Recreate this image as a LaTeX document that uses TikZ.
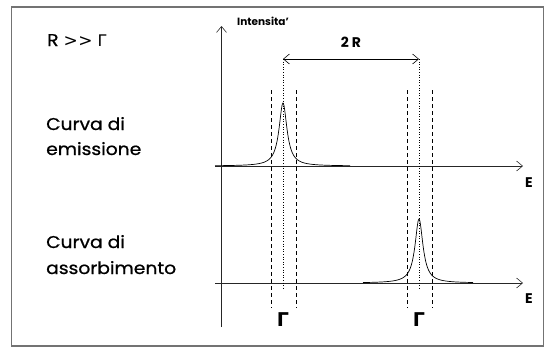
\documentclass[tikz,border=0pt]{standalone}
\usepackage{fontspec}
\setmainfont{Poppins}
\newfontfamily\lblfont[FakeStretch=1.1,FakeBold=0.8]{Poppins}
\newfontfamily\grk{DejaVu Sans}
\usetikzlibrary{arrows.meta}
\begin{document}
\begin{tikzpicture}[x=1pt,y=-1pt,
  lbl/.style={anchor=base west,inner sep=0pt,font=\lblfont\fontsize{17}{18}\selectfont},
  axis/.style={line width=0.8pt,draw=black!85,-{Straight Barb[length=6pt,width=10pt,line width=0.6pt]}},
  dashv/.style={line width=0.6pt,dash pattern=on 4pt off 3pt},
  dotv/.style={line width=0.6pt,dash pattern=on 1pt off 1.6pt},
  gam/.style={inner sep=0pt,font=\grk\bfseries\fontsize{19}{20}\selectfont},
  elbl/.style={inner sep=0pt,font=\bfseries\fontsize{14}{15}\selectfont},
  curve/.style={line width=0.7pt}]
\useasboundingbox (0,0) rectangle (544,349);
\draw[line width=1.2pt,draw=black!55] (11.5,7) rectangle (543.5,346);
% texts
\node[lbl] (rg) at (47,46) {R {\grk\fontsize{17}{18}\selectfont >\hspace{0.5pt}>} {\grk\fontsize{16}{18}\selectfont Γ}};
\node[lbl] (c1) at (46,130) {Curva di};
\node[lbl] (c2) at (46,155) {emissione};
\node[lbl] (c3) at (46,248) {Curva di};
\node[lbl] (c4) at (46,274) {assorbimento};
% axes
\coordinate (yb) at (221.5,327);
\coordinate (yt) at (221.5,26);
\draw[axis] (yb) -- (yt);
\node[anchor=base west,inner sep=0pt,font=\bfseries\fontsize{10.5}{12}\selectfont] (int) at (237,25.5) {Intensita'};
\coordinate (x1a) at (215,166);
\coordinate (x1b) at (523,166);
\draw[axis] (x1a) -- (x1b);
\node[elbl] (e1) at (529,183) {E};
\coordinate (x2a) at (215,283);
\coordinate (x2b) at (523,283);
\draw[axis] (x2a) -- (x2b);
\node[elbl] (e2) at (529,299) {E};
% peaks
\draw[curve,domain=-68:67,samples=160,smooth] plot ({283+\x},{166-63/(1+(\x/4.8)^2)});
\draw[curve,domain=-56:54,samples=160,smooth] plot ({419+\x},{283-64/(1+(\x/4.8)^2)});
% dashed lines
\foreach \xx in {271,296,407,432}{
  \draw[dashv] (\xx,90) -- (\xx,308);
}
% dotted center lines
\coordinate (pa) at (283,59);
\coordinate (pb) at (419,59);
\draw[dotv] (pa) -- (283,289);
\draw[dotv] (pb) -- (419,289);
\draw[line width=0.7pt,{Straight Barb[length=6pt,width=10pt,line width=0.6pt]}-{Straight Barb[length=6pt,width=10pt,line width=0.6pt]}] (pa) -- (pb);
\node[inner sep=0pt,font=\bfseries\fontsize{14}{15}\selectfont] (twor) at (351,42) {2 R};
\node[gam] (g1) at (283,320) {Γ};
\node[gam] (g2) at (419,320) {Γ};
\end{tikzpicture}
\end{document}
